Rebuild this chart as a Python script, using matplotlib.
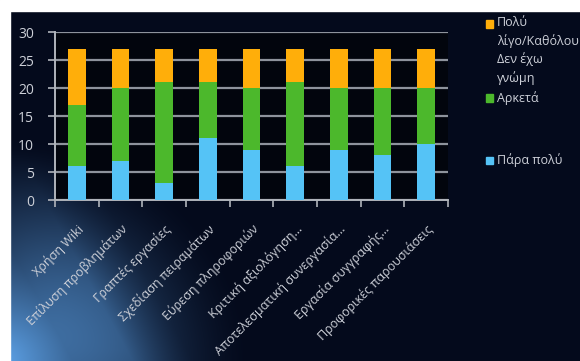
import numpy as np
import matplotlib.pyplot as plt
from matplotlib.patches import Rectangle

plt.rcParams['font.family'] = ['Open Sans', 'DejaVu Sans']

categories = ['Χρήση Wiki', 'Επίλυση προβλημάτων', 'Γραπτές εργασίες',
              'Σχεδίαση πειραμάτων', 'Εύρεση πληροφοριών', 'Κριτική αξιολόγηση...',
              'Αποτελεσματική συνεργασία...', 'Εργασία συγγραφής...',
              'Προφορικές παρουσιάσεις']
para_poly = [6, 7, 3, 11, 9, 6, 9, 8, 10]
arketa = [11, 13, 18, 10, 11, 15, 11, 12, 10]
ligo = [10, 7, 6, 6, 7, 6, 7, 7, 7]
series_labels = ['Πάρα πολύ', 'Αρκετά', 'Πολύ\nλίγο/Καθόλου\nΔεν έχω\nγνώμη']
colors = ['#55c3f6', '#4cb82c', '#ffae0a']

W, H = 580, 361
fig = plt.figure(figsize=(W / 100, H / 100), dpi=100)
fig.patch.set_facecolor('#040a1c')

# slide background with the blue glow at the bottom left
bg = fig.add_axes([0, 0, 1, 1], zorder=-2)
yy, xx = np.mgrid[0:H, 0:W]
d = np.hypot(xx / 1.0, (H - yy) * 1.1)
glow = np.clip(1 - d / 250, 0, 1) ** 1.5
streak = np.clip(1 - np.abs((xx - 0.55 * (yy - 120))) / 60, 0, 1) * np.clip((yy - 150) / 200, 0, 1)
g = np.clip(glow + 0.35 * streak * np.clip(1 - xx / 250, 0, 1), 0, 1)[..., None]
navy = np.array([4, 10, 28]) / 255
light = np.array([95, 165, 235]) / 255
img = navy * (1 - g) + light * g
bg.imshow(img, aspect='auto', extent=[0, W, H, 0])
bg.add_patch(Rectangle((0, 0), W, 11, color='white'))
bg.add_patch(Rectangle((0, 0), 10, H, color='white'))
bg.set_xlim(0, W)
bg.set_ylim(H, 0)
bg.axis('off')

ax = fig.add_axes([55 / W, 1 - 200 / H, 393 / W, 168 / H])
ax.set_facecolor('#02050d')
x = np.arange(len(categories))
bottom = np.zeros(len(categories))
for vals, c in zip([para_poly, arketa, ligo], colors):
    ax.bar(x, vals, width=0.4, bottom=bottom, color=c, zorder=3)
    bottom += np.array(vals)

ax.set_xlim(-0.5, len(categories) - 0.5)
ax.set_ylim(0, 30)
ax.set_yticks(range(0, 31, 5))
ax.yaxis.grid(True, color='#8e939c', linewidth=1.6, zorder=0)
ax.set_xticks(x)
ax.set_xticklabels(categories, rotation=45, ha='right', rotation_mode='anchor',
                   fontsize=9, color='#cdd0d8')
ax.set_xticks(np.arange(-0.5, len(categories), 1), minor=True)
ax.tick_params(axis='x', which='major', length=0, pad=16)
ax.tick_params(axis='x', which='minor', length=5, color='#b0b4bb', width=1.2)
ax.tick_params(axis='y', length=5, color='#b0b4bb', width=1.2, pad=10,
               labelsize=10, labelcolor='#cdd0d8')
for s in ['top', 'right']:
    ax.spines[s].set_visible(False)
for s in ['left', 'bottom']:
    ax.spines[s].set_color('#b0b4bb')
    ax.spines[s].set_linewidth(1.4)

# legend laid out like the slide
legend_rows = [(2, 24), (1, 98), (0, 160)]
for i, ypx in legend_rows:
    fig.patches.append(Rectangle((486 / W, 1 - (ypx + 3.5) / H), 7 / W, 7 / H,
                                 transform=fig.transFigure, color=colors[i]))
    if i == 2:
        fig.text(497 / W, 1 - (ypx - 8) / H, series_labels[i], fontsize=9,
                 color='#cdd0d8', va='top', linespacing=1.45)
    else:
        fig.text(497 / W, 1 - ypx / H, series_labels[i], fontsize=9,
                 color='#cdd0d8', va='center')

fig.savefig('out.png', dpi=100, facecolor=fig.get_facecolor())
